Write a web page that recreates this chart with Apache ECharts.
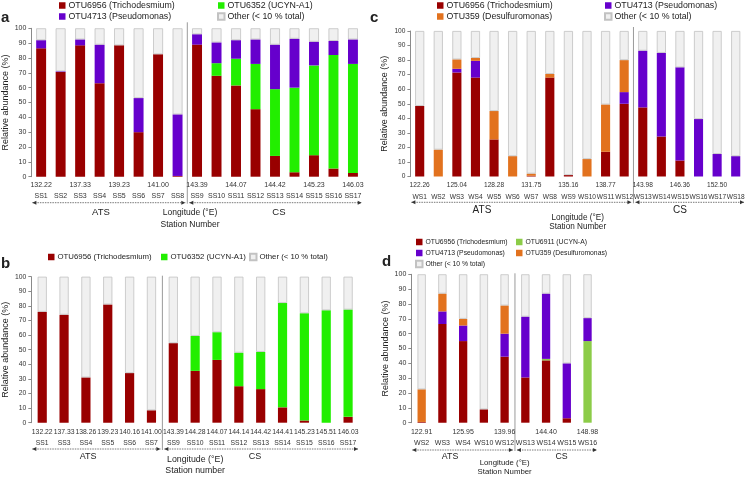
<!DOCTYPE html>
<html>
<head>
<meta charset="utf-8">
<script src="https://cdn.jsdelivr.net/npm/echarts@6/dist/echarts.min.js"></script>
<style>
  html, body { margin: 0; padding: 0; background: #fff; }
  #chart { width: 745px; height: 478px; }
</style>
</head>
<body>
<div id="chart"></div>
<script>
const TRICH = 'OTU6956 (Trichodesmium)'
const UCYN1 = 'OTU6352 (UCYN-A1)'
const UCYN = 'OTU6911 (UCYN-A)'
const PSEUDO = 'OTU4713 (Pseudomonas)'
const DESULF = 'OTU359 (Desulfuromonas)'
const OTHER = 'Other (< 10 % total)'
const GROUPS = ['ATS', 'CS']

// panel a
const aStations = ['SS1', 'SS2', 'SS3', 'SS4', 'SS5', 'SS6', 'SS7', 'SS8', 'SS9', 'SS10', 'SS11', 'SS12', 'SS13', 'SS14', 'SS15', 'SS16', 'SS17']
const aLongitudes = ['132.22', '', '137.33', '', '139.23', '', '141.00', '', '143.39', '', '144.07', '', '144.42', '', '145.23', '', '146.03']
const aTrich = [86.5, 70.5, 88.5, 63, 88.5, 30, 82.5, 0.5, 89, 68, 61.5, 45.5, 14, 3, 14.5, 5.5, 2.5]
const aUcyn = [0, 0, 0, 0, 0, 0, 0, 0, 0, 8.5, 18, 30.5, 45, 57, 60.5, 76.5, 73.5]
const aPseudo = [5.5, 0.5, 4, 26, 0, 23, 0, 41.5, 7, 14, 12.5, 16.5, 30, 33, 16, 9.5, 16.5]
const aOther = [8, 29, 7.5, 11, 11.5, 47, 17.5, 58, 4, 9.5, 8, 7.5, 11, 7, 9, 8.5, 7.5]

// panel b
const bStations = ['SS1', 'SS3', 'SS4', 'SS5', 'SS6', 'SS7', 'SS9', 'SS10', 'SS11', 'SS12', 'SS13', 'SS14', 'SS15', 'SS16', 'SS17']
const bLongitudes = ['132.22', '137.33', '138.26', '139.23', '140.16', '141.00', '143.39', '144.28', '144.07', '144.14', '144.42', '144.41', '145.23', '145.51', '146.03']
const bTrich = [76, 74, 31, 81, 34, 8.5, 54.5, 35.5, 43, 25, 23, 10.5, 1.5, 0, 4]
const bUcyn = [0, 0, 0, 0, 0, 0, 0, 24, 19, 23, 25.5, 71.5, 73.5, 77, 73.5]
const bOther = [24, 26, 69, 19, 66, 91.5, 45.5, 40.5, 38, 52, 51.5, 18, 25, 23, 22.5]

// panel c
const cStations = ['WS1', 'WS2', 'WS3', 'WS4', 'WS5', 'WS6', 'WS7', 'WS8', 'WS9', 'WS10', 'WS11', 'WS12', 'WS13', 'WS14', 'WS15', 'WS16', 'WS17', 'WS18']
const cLongitudes = ['122.26', '', '125.04', '', '128.28', '', '131.75', '', '135.16', '', '138.77', '', '143.98', '', '146.36', '', '152.50', '']
const cTrich = [48.5, 0, 71.5, 68, 25.5, 0, 0.5, 68, 1, 0, 17, 50, 47.5, 27.5, 11, 0, 0, 0]
const cPseudo = [0, 0, 2.5, 11.5, 0, 0, 0, 0, 0, 0, 0, 8, 39, 57.5, 64, 39.5, 15.5, 14]
const cDesulf = [0, 18.5, 6.5, 2, 19.5, 14, 1.5, 2.5, 0, 12, 32.5, 22, 0, 0, 0, 0, 0, 0]
const cOther = [51.5, 81.5, 19.5, 18.5, 55, 86, 98, 29.5, 99, 88, 50.5, 20, 13.5, 15, 25, 60.5, 84.5, 86]

// panel d
const dStations = ['WS2', 'WS3', 'WS4', 'WS10', 'WS12', 'WS13', 'WS14', 'WS15', 'WS16']
const dLongitudes = ['122.91', '', '125.95', '', '139.96', '', '144.40', '', '148.98']
const dTrich = [0.5, 66.5, 55, 9, 44.5, 30.5, 42, 3, 0]
const dUcyn = [0, 0, 0, 0, 0, 0, 1, 0, 55]
const dPseudo = [0, 8.5, 10.5, 0, 15.5, 41, 44, 37, 15.5]
const dDesulf = [22, 12, 4.5, 0, 19, 0, 0, 0, 0]
const dOther = [77.5, 13, 30, 91, 21, 28.5, 13, 60, 29.5]

const FONT = 'Arial, "Liberation Sans", sans-serif'
const COLORS = {
  [TRICH]: '#990000',
  [UCYN1]: '#22ee00',
  [UCYN]: '#8ccc48',
  [PSEUDO]: '#6600cc',
  [DESULF]: '#e2721e',
  [OTHER]: '#f0f0f0'
}

const panels = [
  {
    id: 'a', stations: aStations, lon: aLongitudes, split: 8, xTitle: 'Longitude (°E)\nStation Number',
    stack: [[TRICH, aTrich], [UCYN1, aUcyn], [PSEUDO, aPseudo], [OTHER, aOther]],
    grid: { left: 31.4, top: 28.3, width: 331.3, height: 148.4 },
    barWidth: '51%', tickFont: 7, labelMargin: 2.3, labelLine: 11.7,
    nameFont: 8.5, nameLine: 11.7, nameGap: 30, namePad: [0, 14, 0, 0],
    groupAt: [3.07, 12.2], groupFont: 9.5, groupDy: 35.5, arrowDy: 26, dividerAbove: 6,
    legendFont: 8.8, legendLine: 11,
    legends: [{ left: 59, top: 0, items: [TRICH, PSEUDO] }, { left: 217, top: 0, items: [UCYN1, OTHER] }],
    letter: { x: 1, y: 18 }
  },
  {
    id: 'b', stations: bStations, lon: bLongitudes, split: 6, xTitle: 'Longitude (°E)\nStation number',
    stack: [[TRICH, bTrich], [UCYN1, bUcyn], [OTHER, bOther]],
    grid: { left: 31.3, top: 276.7, width: 327.7, height: 146 },
    barWidth: '42%', tickFont: 6.8, labelMargin: 3.5, labelLine: 11,
    nameFont: 8.8, nameLine: 11, nameGap: 31, namePad: [0, 0, 0, 0],
    groupAt: [2.1, 9.74], groupFont: 9, groupDy: 33.5, arrowDy: 26.3, dividerAbove: 1,
    legendFont: 7.8, legendLine: 11,
    legends: [{ left: 48, top: 251.5, items: [TRICH] }, { left: 161, top: 251.5, items: [UCYN1] }, { left: 249, top: 251.5, items: [OTHER] }],
    letter: { x: 1, y: 264 }
  },
  {
    id: 'c', stations: cStations, lon: cLongitudes, split: 12, xTitle: 'Longitude (°E)\nStation Number',
    stack: [[TRICH, cTrich], [PSEUDO, cPseudo], [DESULF, cDesulf], [OTHER, cOther]],
    grid: { left: 410.4, top: 31, width: 334.6, height: 145.5 },
    barWidth: '49%', tickFont: 6.6, labelMargin: 2.7, labelLine: 11.7,
    nameFont: 8.2, nameLine: 9.5, nameGap: 36, namePad: [0, 0, 0, 0],
    groupAt: [3.35, 14], groupFont: 10, groupDy: 34.2, arrowDy: 25.8, dividerAbove: 4,
    legendFont: 8.8, legendLine: 11,
    legends: [{ left: 437, top: 0, items: [TRICH, DESULF] }, { left: 604, top: 0, items: [PSEUDO, OTHER] }],
    letter: { x: 370, y: 18 }
  },
  {
    id: 'd', stations: dStations, lon: dLongitudes, split: 5, xTitle: 'Longitude (°E)\nStation Number',
    stack: [[TRICH, dTrich], [UCYN, dUcyn], [PSEUDO, dPseudo], [DESULF, dDesulf], [OTHER, dOther]],
    grid: { left: 411.3, top: 274.3, width: 186.6, height: 148.4 },
    barWidth: '40%', tickFont: 7, labelMargin: 3.5, labelLine: 11,
    nameFont: 7.8, nameLine: 8.8, nameGap: 36, namePad: [0, 0, 0, 0],
    groupAt: [1.37, 6.75], groupFont: 8.8, groupDy: 34, arrowDy: 27.3, dividerAbove: 1,
    legendFont: 6.8, legendLine: 11,
    legends: [{ left: 415, top: 236.5, items: [TRICH, PSEUDO, OTHER] }, { left: 516, top: 236.5, items: [UCYN, DESULF] }],
    letter: { x: 382, y: 262 }
  }
]

const chart = echarts.init(document.getElementById('chart'), null, { renderer: 'canvas' })

const option = {
  animation: false,
  backgroundColor: '#ffffff',
  textStyle: { fontFamily: FONT, color: '#222' },
  grid: panels.map(p => ({ ...p.grid, containLabel: false, outerBoundsMode: 'none' })),
  xAxis: panels.map((p, i) => ({
    type: 'category',
    gridIndex: i,
    data: p.stations,
    axisLine: { show: false },
    axisTick: { show: false },
    axisLabel: {
      interval: 0,
      margin: p.labelMargin,
      formatter: (v, k) => `{lon|${p.lon[k] || ' '}}\n{st|${v}}`,
      rich: {
        lon: { fontSize: p.tickFont, lineHeight: p.labelLine, color: '#333', fontFamily: FONT },
        st: { fontSize: p.tickFont, lineHeight: p.labelLine, color: '#333', fontFamily: FONT }
      }
    },
    name: p.xTitle,
    nameLocation: 'middle',
    nameGap: p.nameGap,
    nameTextStyle: { fontSize: p.nameFont, lineHeight: p.nameLine, color: '#222', padding: p.namePad }
  })),
  yAxis: panels.map((p, i) => ({
    type: 'value',
    gridIndex: i,
    min: 0,
    max: 100,
    interval: 10,
    splitLine: { show: false },
    axisLine: { show: true, lineStyle: { color: '#8a8a8a', width: 1 } },
    axisTick: { show: true, length: 3, lineStyle: { color: '#8a8a8a' } },
    axisLabel: { fontSize: p.tickFont, color: '#333', margin: 5 },
    name: 'Relative abundance (%)',
    nameLocation: 'middle',
    nameGap: 21,
    nameTextStyle: { fontSize: 9, color: '#222' }
  })),
  legend: panels.flatMap(p => p.legends.map(l => ({
    left: l.left,
    top: l.top,
    orient: 'vertical',
    padding: 0,
    itemGap: 0,
    itemWidth: 6.5,
    itemHeight: 6.5,
    icon: 'rect',
    selectedMode: false,
    data: l.items,
    textStyle: { fontSize: p.legendFont, lineHeight: p.legendLine, color: '#222', padding: [0, 0, 0, -2] }
  }))),
  series: panels.flatMap((p, i) => p.stack.map(([name, data]) => ({
    type: 'bar',
    name,
    data,
    stack: p.id,
    xAxisIndex: i,
    yAxisIndex: i,
    barWidth: p.barWidth,
    itemStyle: name === OTHER
      ? { color: COLORS[name], borderColor: '#c2c2c2', borderWidth: 0.8 }
      : { color: COLORS[name] }
  })))
}

chart.setOption(option)

// dividers, region arrows, ATS/CS labels and panel letters from the axis scales
const graphics = []
const textEl = (text, x, y, font, align) => ({
  type: 'text',
  silent: true,
  style: { text, x, y, font, fill: '#222', textAlign: align, align, textVerticalAlign: 'middle', verticalAlign: 'middle' }
})
const head = (x, y, dir) => ({
  type: 'polygon',
  silent: true,
  shape: { points: [[x, y], [x + 4 * dir, y - 2], [x + 4 * dir, y + 2]] },
  style: { fill: '#333' }
})

panels.forEach((p, i) => {
  const at = k => chart.convertToPixel({ xAxisIndex: i }, k)
  const atFrac = f => {
    const k = Math.floor(f)
    return at(k) + (f - k) * (at(k + 1) - at(k))
  }
  const g = p.grid
  const bottom = g.top + g.height
  const right = g.left + g.width
  const divX = (at(p.split - 1) + at(p.split)) / 2
  const arrowY = bottom + p.arrowDy

  graphics.push({
    type: 'line', silent: true,
    shape: { x1: divX, y1: g.top - p.dividerAbove, x2: divX, y2: arrowY + 1 },
    style: { stroke: '#9a9a9a', lineWidth: 1 }
  })
  const spans = [[g.left + 1, divX - 2], [divX + 2, right - 1]]
  spans.forEach(([x1, x2]) => {
    graphics.push({
      type: 'line', silent: true,
      shape: { x1, y1: arrowY, x2, y2: arrowY },
      style: { stroke: '#555', lineWidth: 0.8, lineDash: [1.5, 1] }
    })
    graphics.push(head(x1, arrowY, 1), head(x2, arrowY, -1))
  })
  GROUPS.forEach((name, j) => {
    graphics.push(textEl(name, atFrac(p.groupAt[j]), bottom + p.groupDy, `${p.groupFont}px ${FONT}`, 'center'))
  })
  graphics.push(textEl(p.id, p.letter.x, p.letter.y, `bold 15px ${FONT}`, 'left'))
})

chart.setOption({ graphic: graphics })
</script>
</body>
</html>
